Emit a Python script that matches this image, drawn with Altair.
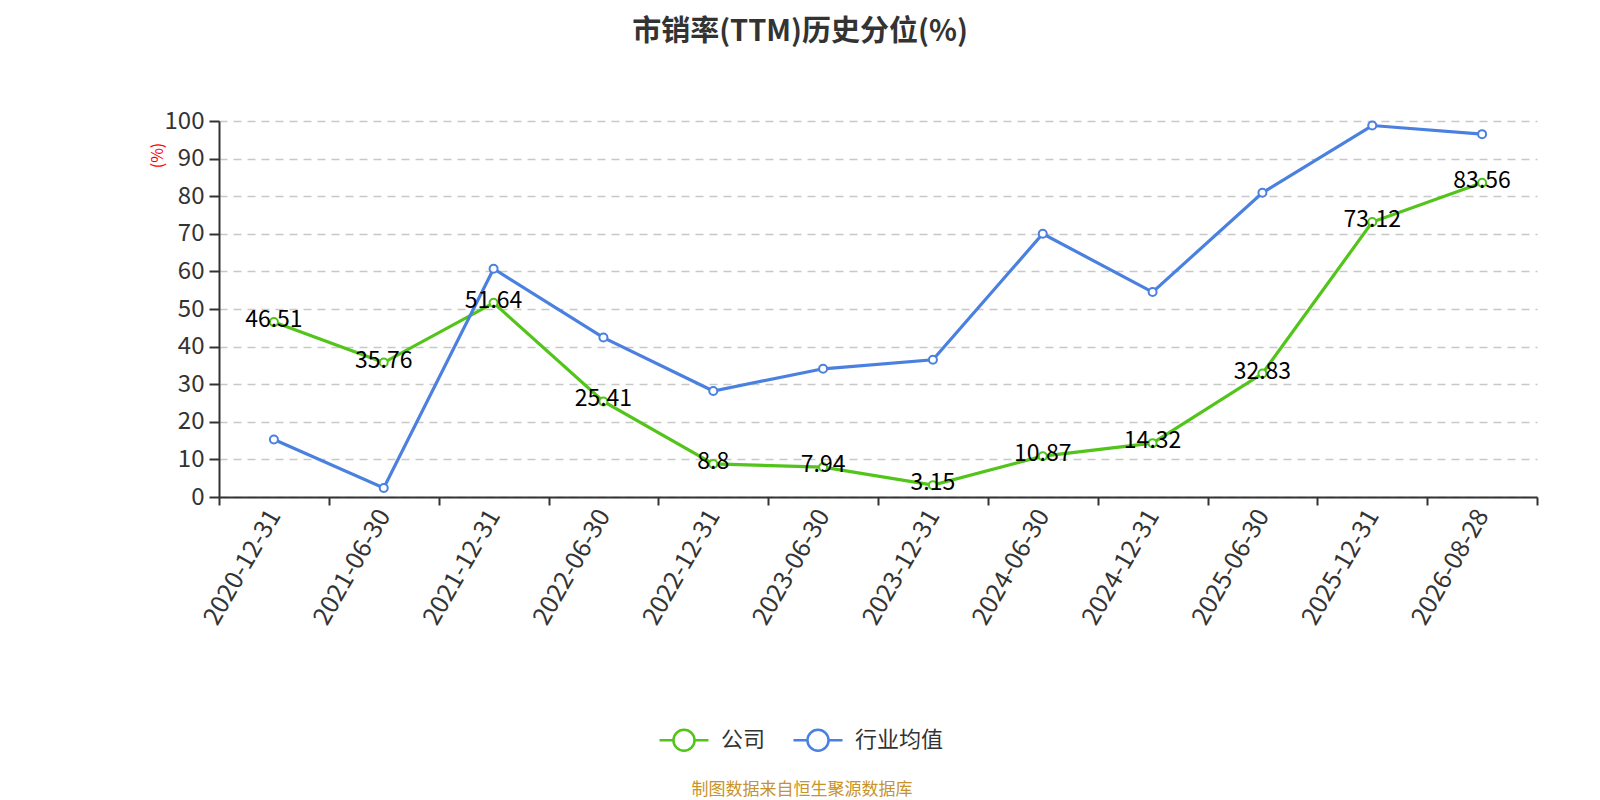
import altair as alt
import pandas as pd

dates = ["2020-12-31", "2021-06-30", "2021-12-31", "2022-06-30", "2022-12-31", "2023-06-30",
         "2023-12-31", "2024-06-30", "2024-12-31", "2025-06-30", "2025-12-31", "2026-08-28"]
company = [46.51, 35.76, 51.64, 25.41, 8.8, 7.94, 3.15, 10.87, 14.32, 32.83, 73.12, 83.56]
industry = [15.3, 2.4, 60.7, 42.4, 28.2, 34.1, 36.5, 70.0, 54.5, 80.9, 98.8, 96.5]
series_names = ["公司", "行业均值"]
series_colors = ["#52c41a", "#4a80e0"]
y_ticks = [0, 10, 20, 30, 40, 50, 60, 70, 80, 90, 100]

FONT = "Noto Sans CJK SC"

rows = []
for d, v in zip(dates, company):
    rows.append({"date": d, "value": v, "series": series_names[0], "label": f"{v:g}"})
for d, v in zip(dates, industry):
    rows.append({"date": d, "value": v, "series": series_names[1], "label": f"{v:g}"})
df = pd.DataFrame(rows)
df_company = df[df["series"] == series_names[0]]

W, H = 1318, 376
PAD_L, PAD_T = 211, 113
TOTAL_H = 792

x_enc = alt.X(
    "date:N", sort=dates, bandPosition=0.5,
    scale=alt.Scale(type="band", paddingInner=0, paddingOuter=0),
    axis=alt.Axis(
        title=None, tickBand="extent", labelAngle=-60, labelAlign="right",
        labelBaseline="middle", grid=False, domainColor="#333333", domainWidth=2,
        tickColor="#333333", tickWidth=2, tickSize=8, labelFontSize=25,
        labelColor="#333333", labelPadding=6, labelFont=FONT, labelOverlap=False,
    ),
)
y_enc = alt.Y(
    "value:Q",
    scale=alt.Scale(domain=[0, 100], nice=False),
    axis=alt.Axis(
        values=y_ticks, tickCount=11, labelOverlap=False,
        title="(%)", titleColor="#ff0000", titleFontSize=16,
        titleFontWeight="normal", titleFont=FONT, titleX=-62, titleY=34,
        titleAlign="center", titleBaseline="middle",
        grid=True, gridColor="#c8c8c8", gridDash=[8, 6], gridWidth=1.5,
        domainColor="#333333", domainWidth=2, tickColor="#333333", tickWidth=2,
        tickSize=10, labelFontSize=24, labelColor="#333333", labelPadding=5,
        labelFont=FONT,
    ),
)

symbol_path = ("M-1,0 L-0.43,0 M0.43,0 L1,0 "
               "M0.43,0 A0.43,0.43 0 1,1 -0.43,0 A0.43,0.43 0 1,1 0.43,0 Z")

color_enc = alt.Color(
    "series:N",
    scale=alt.Scale(domain=series_names, range=series_colors),
    legend=alt.Legend(
        title=None, orient="none", direction="horizontal", legendX=439, legendY=593,
        symbolType=symbol_path, symbolSize=2401, symbolStrokeWidth=2.5,
        symbolFillColor="#ffffff", labelFontSize=22, labelColor="#333333",
        labelFont=FONT, labelOffset=11, columnPadding=22, padding=0,
    ),
)

base = alt.Chart(df).encode(x=x_enc, y=y_enc, color=color_enc)

lines = base.mark_line(strokeWidth=3.2)
points = base.mark_point(filled=False, fill="#ffffff", fillOpacity=1, size=64,
                         strokeWidth=2, opacity=1)

labels = alt.Chart(df_company).mark_text(
    fontSize=23, color="#000000", baseline="middle", dy=-2, font=FONT
).encode(x=x_enc, y=y_enc, text="label:N")

footer = alt.Chart(pd.DataFrame({"t": ["制图数据来自恒生聚源数据库"]})).mark_text(
    fontSize=17, color="#c8932a", font=FONT, align="center", baseline="middle"
).encode(x=alt.value(583), y=alt.value(669), text="t:N")

chart = alt.layer(lines, points, labels, footer).properties(
    width=W, height=H,
    background="#ffffff",
    title=alt.TitleParams(
        text="市销率(TTM)历史分位(%)", fontSize=29, fontWeight="bold", color="#333333",
        font=FONT, anchor="middle", dx=-78, offset=62,
    ),
    autosize=alt.AutoSizeParams(type="none"),
    padding={"left": PAD_L, "top": PAD_T, "right": 1600 - 16 - PAD_L - W, "bottom": TOTAL_H - PAD_T - H},
).configure_view(stroke=None)

chart.save("out.html", embed_options={"renderer": "svg", "actions": False})
